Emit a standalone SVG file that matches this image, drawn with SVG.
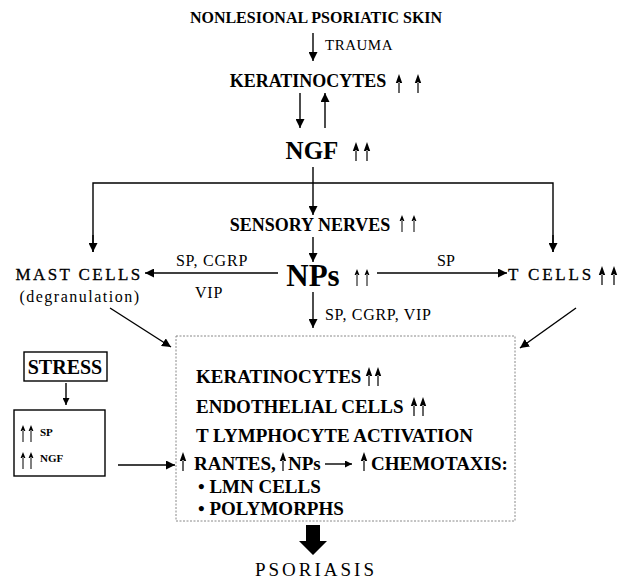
<svg xmlns="http://www.w3.org/2000/svg" xmlns:xlink="http://www.w3.org/1999/xlink" width="623" height="580" viewBox="0 0 623 580" font-family="'Liberation Serif', 'DejaVu Serif', serif">
<style>
text{font-family:'Liberation Serif','DejaVu Serif',serif;fill:#000}
.b{font-weight:bold}
.h{font-size:18px;font-weight:bold}
.lbl{font-size:16px}
.ln{stroke:#000;stroke-width:1.4;fill:none}
.box{font-size:19px;font-weight:bold}
</style>
<defs>
<marker id="ah" viewBox="0 0 10 10" refX="10" refY="5" markerWidth="7" markerHeight="7" orient="auto" markerUnits="userSpaceOnUse">
<path d="M0,0 L10,5 L0,10 Z" fill="#000"/>
</marker>
<marker id="ahL" viewBox="0 0 10 10" refX="10" refY="5" markerWidth="9" markerHeight="9" orient="auto" markerUnits="userSpaceOnUse">
<path d="M0,0 L10,5 L0,10 Z" fill="#000"/>
</marker>
<path id="up" d="M0,0 L-3.2,9 L3.2,9 Z M-0.6,8 H0.6 V19 H-0.6 Z" fill="#000"/>
<path id="upt" d="M0,0 L-2.4,6 L2.4,6 Z M-0.5,5 H0.5 V17 H-0.5 Z" fill="#000"/>
</defs>

<g id="connectors">
<line class="ln" x1="313" y1="33" x2="313" y2="61" marker-end="url(#ahL)"/>
<line class="ln" x1="300" y1="93" x2="300" y2="128" marker-end="url(#ahL)"/>
<line class="ln" x1="325" y1="128" x2="325" y2="93" marker-end="url(#ahL)"/>
<line class="ln" x1="313" y1="167" x2="313" y2="215" marker-end="url(#ahL)"/>
<polyline class="ln" points="93,252 93,183 553,183 553,252" stroke-width="1.2"/>
<line class="ln" x1="93" y1="235" x2="93" y2="252" marker-end="url(#ahL)"/>
<line class="ln" x1="553" y1="235" x2="553" y2="252" marker-end="url(#ahL)"/>
<line class="ln" x1="313" y1="237" x2="313" y2="262" marker-end="url(#ahL)"/>
<line class="ln" x1="278" y1="273" x2="145" y2="273" marker-end="url(#ahL)"/>
<line class="ln" x1="377" y1="273" x2="507" y2="273" marker-end="url(#ahL)"/>
<line class="ln" x1="313" y1="292" x2="313" y2="328" marker-end="url(#ahL)"/>
<line class="ln" x1="110" y1="308" x2="171" y2="347" marker-end="url(#ahL)"/>
<line class="ln" x1="576" y1="308" x2="520" y2="348" marker-end="url(#ahL)"/>
<line class="ln" x1="66" y1="383" x2="66" y2="405" stroke-width="1" marker-end="url(#ah)"/>
<line class="ln" x1="118" y1="465" x2="175" y2="465" marker-end="url(#ahL)"/>
<path d="M306,525 H320 V541 H327 L313,555 L299,541 H306 Z" fill="#000"/>
</g>

<g id="skin">
<text x="316" y="23" font-size="16" font-weight="bold" text-anchor="middle">NONLESIONAL PSORIATIC SKIN</text>
<text x="325" y="50" font-size="15" letter-spacing="0.5">TRAUMA</text>
</g>

<g id="keratinocytes">
<text x="308" y="87" class="h" text-anchor="middle">KERATINOCYTES</text>
<use xlink:href="#up" x="399" y="74"/>
<use xlink:href="#up" x="418" y="74"/>
</g>

<g id="ngf">
<text x="312" y="159" class="b" font-size="25" text-anchor="middle">NGF</text>
<use xlink:href="#up" x="356" y="142"/>
<use xlink:href="#up" x="367" y="142"/>
</g>

<g id="sensory">
<text x="310" y="231" class="h" text-anchor="middle">SENSORY NERVES</text>
<use xlink:href="#upt" x="402" y="215"/>
<use xlink:href="#upt" x="414" y="215"/>
</g>

<g id="nps">
<text x="313" y="286" class="b" font-size="31" text-anchor="middle">NPs</text>
<use xlink:href="#upt" x="357" y="269"/>
<use xlink:href="#upt" x="367" y="269"/>
<text x="212" y="266" class="lbl" letter-spacing="0.8" text-anchor="middle">SP, CGRP</text>
<text x="209" y="298" class="lbl" letter-spacing="0.8" text-anchor="middle">VIP</text>
<text x="446" y="266" class="lbl" text-anchor="middle">SP</text>
<text x="325" y="320" class="lbl" letter-spacing="0.7">SP, CGRP, VIP</text>
</g>

<g id="mast">
<text x="79" y="280" font-size="17" letter-spacing="2.4" text-anchor="middle" stroke="#000" stroke-width="0.3">MAST CELLS</text>
<text x="80" y="302" font-size="16" letter-spacing="1.5" text-anchor="middle">(degranulation)</text>
</g>

<g id="tcells">
<text x="551" y="280" font-size="17" letter-spacing="2.8" text-anchor="middle" stroke="#000" stroke-width="0.3">T CELLS</text>
<use xlink:href="#up" x="602" y="266"/>
<use xlink:href="#up" x="614" y="266"/>
</g>

<g id="stress">
<rect x="24" y="352" width="83" height="29" fill="none" stroke="#000" stroke-width="1.4"/>
<text x="65" y="374" class="b" font-size="20" text-anchor="middle">STRESS</text>
</g>

<g id="spngf">
<rect x="14" y="410" width="91" height="66" fill="none" stroke="#000" stroke-width="1.4"/>
<use xlink:href="#upt" x="23" y="425"/>
<use xlink:href="#upt" x="31" y="425"/>
<text x="40" y="436" class="b" font-size="11">SP</text>
<use xlink:href="#upt" x="23" y="452"/>
<use xlink:href="#upt" x="31" y="452"/>
<text x="40" y="462" class="b" font-size="11">NGF</text>
</g>

<g id="effects">
<rect x="176" y="336" width="339" height="185" fill="none" stroke="#888" stroke-width="1" stroke-dasharray="2,1.5"/>
<text x="196" y="383" class="box">KERATINOCYTES</text>
<use xlink:href="#up" x="369" y="367"/>
<use xlink:href="#up" x="378" y="367"/>
<text x="196" y="413" class="box">ENDOTHELIAL CELLS</text>
<use xlink:href="#up" x="414" y="397"/>
<use xlink:href="#up" x="423" y="397"/>
<text x="196" y="442" class="box">T LYMPHOCYTE ACTIVATION</text>
<use xlink:href="#up" x="183" y="452"/>
<text x="194" y="470" class="box">RANTES,</text>
<use xlink:href="#up" x="283" y="452"/>
<text x="288" y="470" class="box">NPs</text>
<line x1="325" y1="464" x2="352" y2="464" stroke="#000" stroke-width="1.4" marker-end="url(#ah)"/>
<use xlink:href="#up" x="364" y="452"/>
<text x="371" y="470" class="box">CHEMOTAXIS:</text>
<text x="198" y="493" class="box">• LMN CELLS</text>
<text x="198" y="515" class="box">• POLYMORPHS</text>
</g>

<g id="psoriasis">
<text x="316" y="576" font-size="19" letter-spacing="3" text-anchor="middle">PSORIASIS</text>
</g>
</svg>
